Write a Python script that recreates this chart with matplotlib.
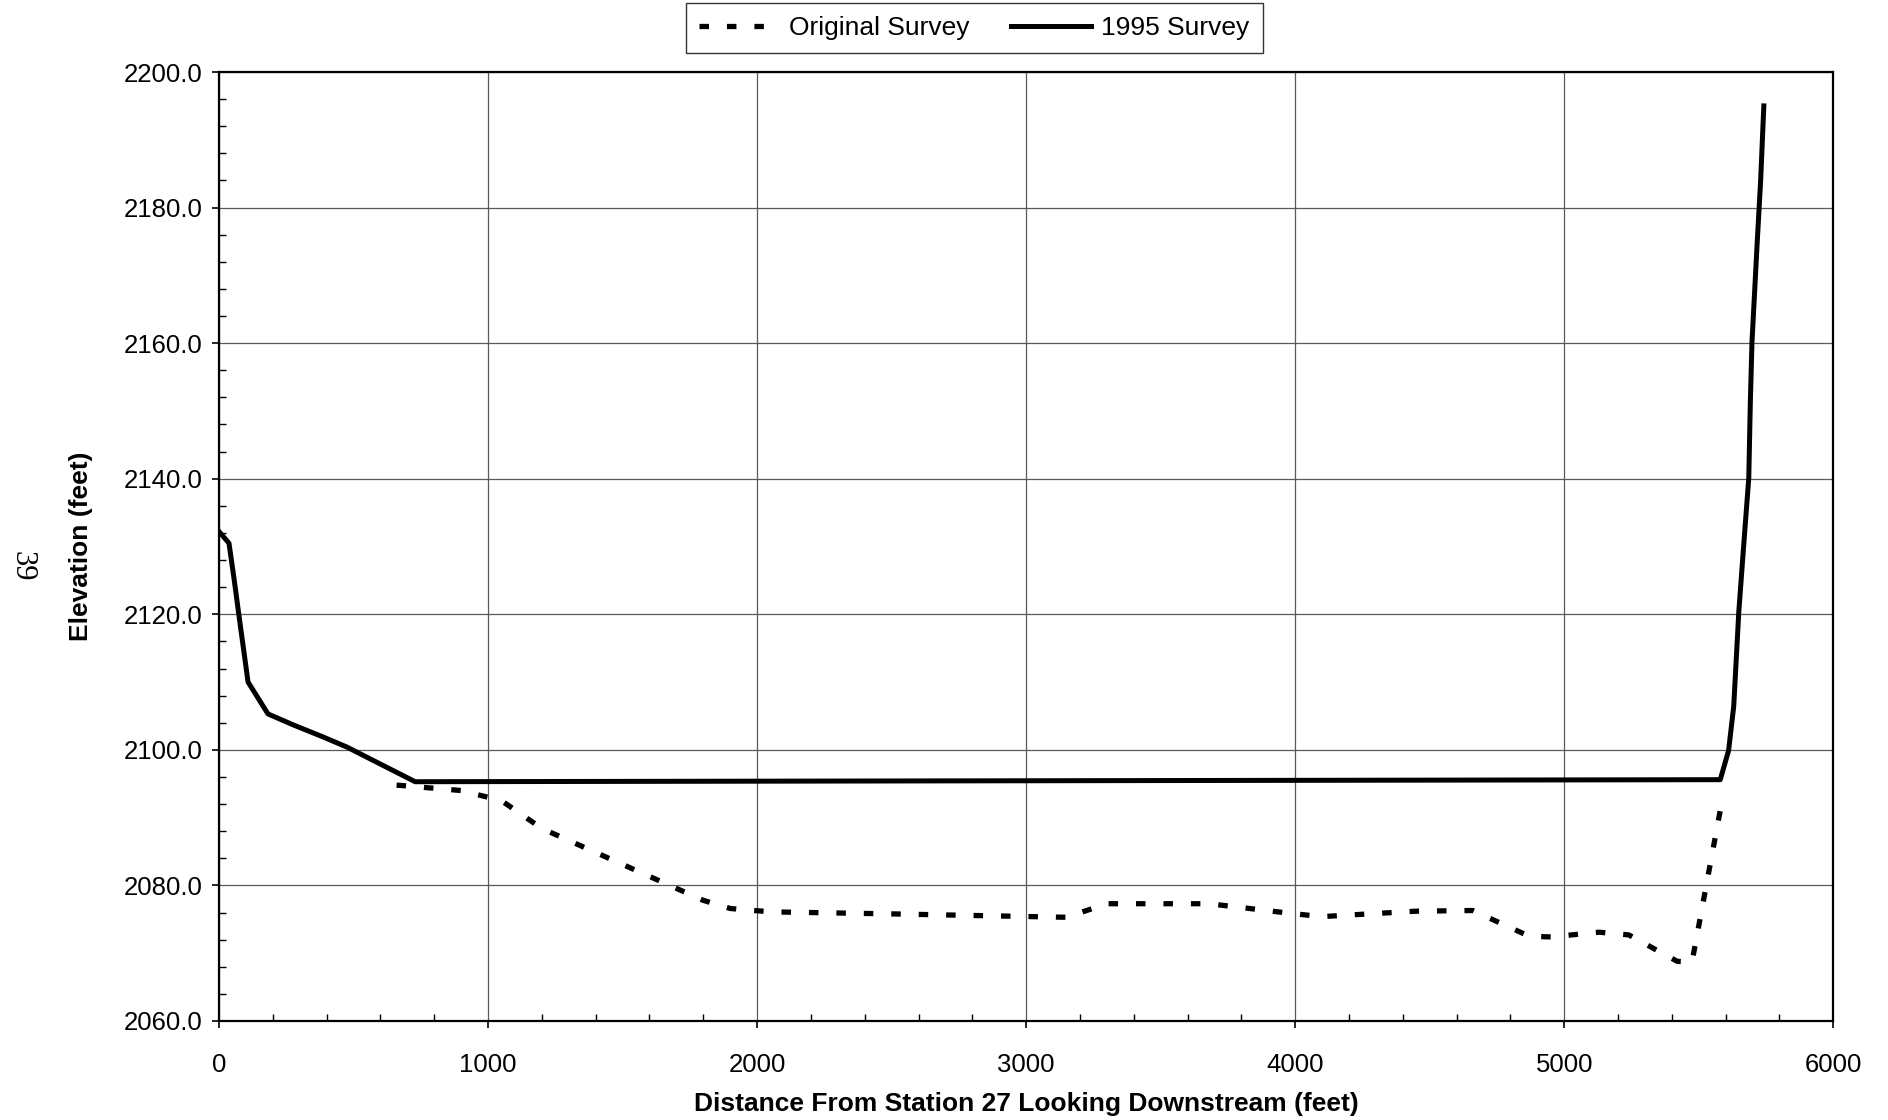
import matplotlib
matplotlib.use("Agg")
import matplotlib.pyplot as plt
from matplotlib.ticker import MultipleLocator, FormatStrFormatter

# cross-section at station 27, looking downstream
orig_x = [660, 900, 1050, 1200, 1800, 1900, 2050, 2500, 3150, 3300, 3680,
          4000, 4100, 4450, 4660, 4870, 4950, 5130, 5240, 5420, 5475, 5590]
orig_y = [2094.8, 2094.0, 2092.5, 2088.4, 2077.8, 2076.6, 2076.1, 2075.8,
          2075.3, 2077.3, 2077.3, 2075.8, 2075.4, 2076.2, 2076.3, 2072.5,
          2072.4, 2073.1, 2072.7, 2068.8, 2068.7, 2093.2]

s1995_x = [0, 37, 55, 78, 108, 182, 275, 387, 476, 729, 5580, 5611, 5630,
           5649, 5667, 5686, 5692, 5698, 5717, 5730, 5742]
s1995_y = [2132.2, 2130.5, 2125.5, 2118.7, 2110.0, 2105.3, 2103.7, 2101.9,
           2100.4, 2095.3, 2095.6, 2099.9, 2106.4, 2120.4, 2130.1, 2140.1,
           2151.6, 2160.2, 2174.6, 2183.9, 2195.0]

plt.rcParams['font.family'] = ['Liberation Sans', 'DejaVu Sans']

fig = plt.figure(figsize=(18.88, 11.2), dpi=100)
ax = fig.add_axes([0.116, 0.0884, 0.855, 0.8473])

ax.plot(orig_x, orig_y, color="black", lw=3.8, linestyle=(0, (1.8, 3.4)),
        label="Original Survey")
ax.plot(s1995_x, s1995_y, color="black", lw=3.6, solid_joinstyle="round",
        label="1995 Survey")

ax.set_xlim(0, 6000)
ax.set_ylim(2060, 2200)
ax.xaxis.set_major_locator(MultipleLocator(1000))
ax.xaxis.set_minor_locator(MultipleLocator(200))
ax.yaxis.set_major_locator(MultipleLocator(20))
ax.yaxis.set_minor_locator(MultipleLocator(4))
ax.yaxis.set_major_formatter(FormatStrFormatter("%.1f"))

ax.grid(which="major", color="0.35", lw=0.9)
ax.set_axisbelow(True)
for sp in ax.spines.values():
    sp.set_linewidth(1.6)

ax.tick_params(which="major", direction="out", length=5, width=1.2,
               labelsize=18.5, pad=7)
ax.tick_params(axis="x", which="major", pad=18)
ax.tick_params(which="minor", direction="in", length=5, width=1.0)

lab_font = dict(family='Liberation Sans', weight="bold", size=19)
ax.set_xlabel("Distance From Station 27 Looking Downstream (feet)",
              fontdict=lab_font, labelpad=11)
ax.set_ylabel("Elevation (feet)", fontdict=lab_font, labelpad=22)

leg = fig.legend(loc="center", bbox_to_anchor=(0.516, 0.975), ncol=2,
                 fontsize=19, frameon=True, fancybox=False, edgecolor="black",
                 handlelength=3.0, handletextpad=0.4, columnspacing=1.6,
                 borderpad=0.5)
leg.get_frame().set_linewidth(1.0)

fig.text(22 / 1888, 1 - 566 / 1120, "39", rotation=-90, family="Liberation Serif",
         fontsize=22, ha="center", va="center")

fig.savefig("out.png", dpi=100)
